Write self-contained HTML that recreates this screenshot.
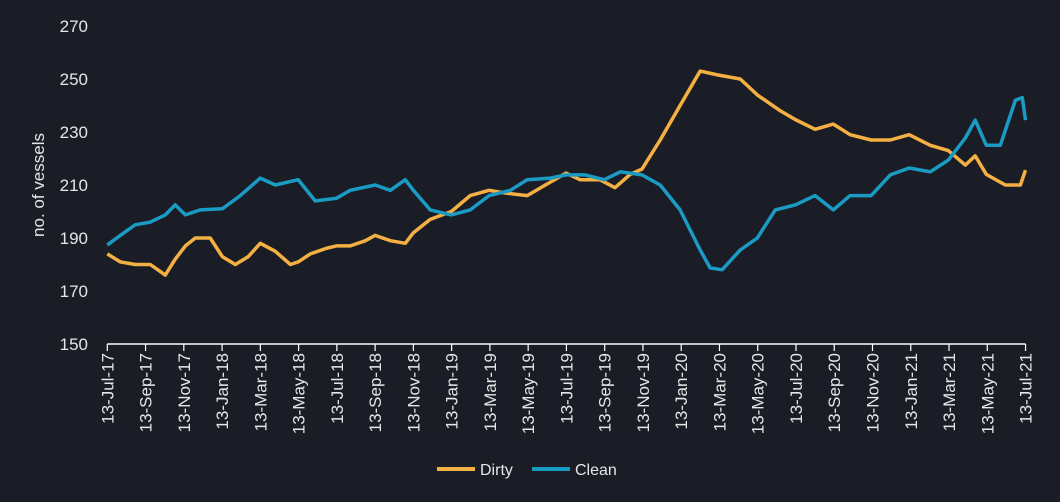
<!DOCTYPE html>
<html><head><meta charset="utf-8">
<style>
html,body{margin:0;padding:0;background:#1b1d26;}
svg{display:block;font-family:"Liberation Sans",sans-serif;}
</style></head>
<body>
<svg id="chart" width="1060" height="502">
<rect width="1060" height="502" fill="#1b1d26"/>
<g id="yaxis"></g>
<g id="xaxis"></g>
<g id="series"></g>
<text x="44" y="185" fill="#e6e6e6" font-size="17" text-anchor="middle" transform="rotate(-90 44 185)">no. of vessels</text>
<g>
<g>
<line x1="437" y1="469" x2="475" y2="469" stroke="#f4b042" stroke-width="4"/>
<text x="480" y="475" fill="#e6e6e6" font-size="16">Dirty</text></g>
<g>
<line x1="532" y1="469" x2="570" y2="469" stroke="#1a9bc4" stroke-width="4"/>
<text x="575" y="475" fill="#e6e6e6" font-size="16">Clean</text></g>
</g>
</svg>
<script>
const yTicks=[150,170,190,210,230,250,270];
const xTickLabels=["13-Jul-17","13-Sep-17","13-Nov-17","13-Jan-18","13-Mar-18","13-May-18","13-Jul-18","13-Sep-18","13-Nov-18","13-Jan-19","13-Mar-19","13-May-19","13-Jul-19","13-Sep-19","13-Nov-19","13-Jan-20","13-Mar-20","13-May-20","13-Jul-20","13-Sep-20","13-Nov-20","13-Jan-21","13-Mar-21","13-May-21","13-Jul-21"];
const dirtyMonths=[0,0.68,1.46,2.25,3.03,3.55,4.08,4.6,5.38,6.01,6.69,7.37,8.0,8.78,9.57,9.98,10.61,11.4,11.97,12.7,13.49,14.0,14.8,15.58,16.0,16.88,17.98,18.97,19.96,20.8,21.95,22.9,23.98,24.71,25.75,26.54,27.33,27.95,28.9,29.94,30.99,31.93,33.09,33.98,35.18,35.96,37.0,37.95,38.83,39.93,40.93,41.92,43.02,43.96,44.85,45.37,45.95,46.94,47.73,48];
const dirtyValues=[184,181,180,180,176,182,187,190,190,183,180,183,188,185,180,181,184,186,187,187,189,191,189,188,192,197,200,206,208,207,206,210,214.5,212,212,209,214,216,227,240,253,251.5,250,244,238,234.7,231,233,229,227,227,229,225,223,217.5,221,214,210,210,215.6];
const cleanMonths=[0,0.68,1.46,2.25,3.03,3.55,4.08,4.86,6.01,6.95,8.0,8.78,9.98,10.87,11.97,12.7,14.0,14.8,15.58,16.0,16.88,17.98,18.97,19.96,21.07,21.95,23.16,23.98,24.98,25.98,26.82,27.95,28.9,29.94,30.99,31.51,32.14,33.09,33.98,34.92,35.96,37.0,37.95,38.83,39.93,40.93,41.92,43.02,43.96,44.85,45.37,45.95,46.68,47.47,47.83,48];
const cleanValues=[187.4,191,195,196,198.7,202.5,198.7,200.6,201,206,212.6,210,212,204,205,208,210,208,212,208,200.6,198.7,200.6,206,208,212,212.6,213.8,213.8,212,215,213.8,210,200.6,185.5,178.7,178,185.5,190,200.6,202.5,206,200.6,206,206,213.8,216.4,215,219.4,227.7,234.5,225,225,242,243,234.5];

const NS="http://www.w3.org/2000/svg";
const x0=107.3, xPerMonth=19.13, yBase=344, yPer=2.65;
const xs=m=>x0+m*xPerMonth;
const ys=v=>yBase-(v-150)*yPer;
function mk(tag,attrs,parent){const e=document.createElementNS(NS,tag);for(const k in attrs)e.setAttribute(k,attrs[k]);parent.appendChild(e);return e;}
const ya=document.getElementById('yaxis'), xa=document.getElementById('xaxis'), sg=document.getElementById('series');
yTicks.forEach(v=>{
  const t=mk('text',{x:88,y:ys(v)+6,fill:'#e6e6e6','font-size':17,'text-anchor':'end'},ya);
  
  
  t.textContent=v;
});
const axl=mk('line',{x1:x0,y1:yBase,x2:xs(48),y2:yBase,stroke:'#ffffff','stroke-width':1.5},xa);


xTickLabels.forEach((lab,i)=>{
  const x=xs(i*2);
  const tk=mk('line',{x1:x,y1:yBase,x2:x,y2:yBase+7,stroke:'#ffffff','stroke-width':1.2},xa);
  
  
  const t=mk('text',{x:0,y:0,fill:'#e6e6e6','font-size':17,'text-anchor':'end',transform:`translate(${x+6},${yBase+9}) rotate(-90)`},xa);
  
  
  t.textContent=lab;
});
function line(ms,vs,color,name){
  const d=ms.map((m,i)=>(i?'L':'M')+xs(m).toFixed(1)+','+ys(vs[i]).toFixed(1)).join('');
  const p=mk('path',{d:d,fill:'none',stroke:color,'stroke-width':3.5,'stroke-linejoin':'round'},sg);
  
  
}
line(dirtyMonths,dirtyValues,'#f4b042','dirty-line');
line(cleanMonths,cleanValues,'#1a9bc4','clean-line');
</script>
</body></html>
